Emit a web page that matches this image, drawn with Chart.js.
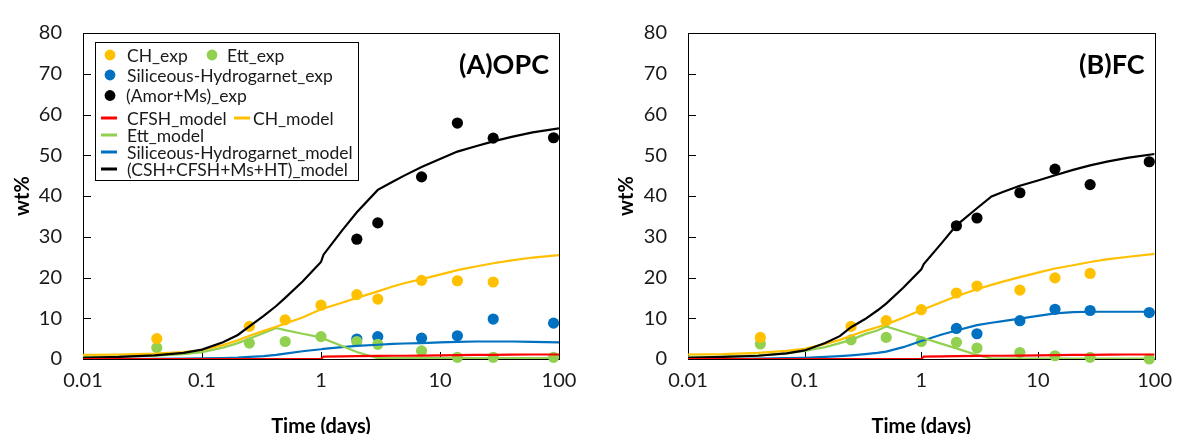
<!DOCTYPE html>
<html><head><meta charset="utf-8">
<script src="https://cdn.jsdelivr.net/npm/chart.js@4/dist/chart.umd.min.js"></script>
<style>
html,body{margin:0;padding:0;background:#fff;overflow:hidden;width:1182px;height:434px}
.wrap{position:absolute;top:0;width:591px;height:450px}
#w1{left:0}#w2{left:591px}
canvas{display:block}
</style></head><body>
<div class="wrap" id="w1"><canvas id="c1" width="591" height="450"></canvas></div>
<div class="wrap" id="w2"><canvas id="c2" width="591" height="450"></canvas></div>
<script>
// ---------- data ----------
const expTime   = [0.0417, 0.25, 0.5, 1, 2, 3, 7, 14, 28, 90];
const modelTime = [0.01,0.02,0.04,0.07,0.1,0.15,0.2,0.25,0.33,0.42,0.5,0.7,1,1.05,1.5,2,3,4,5,7,10,14,20,28,40,60,100];
const xTickVals = [0.01, 0.1, 1, 10, 100];
const yTickVals = [0,10,20,30,40,50,60,70,80];

// Panel A (OPC) experiments
const opcCHexp   = [5.0, 8.0, 9.6, 13.2, 15.8, 14.7, 19.3, 19.2, 18.9, null];
const opcEttExp  = [2.8, 3.9, 4.3, 5.5, 4.3, 3.6, 2.0, 0.4, 0.4, 0.4];
const opcSHGexp  = [null, null, null, null, 4.9, 5.5, 5.1, 5.7, 9.8, 8.8];
const opcAmorExp = [null, null, null, null, 29.4, 33.4, 44.7, 57.9, 54.2, 54.3];
// Panel A models
const opcCFSH = [0,0,0,0,0,0,0,0,0,0,0,0,0,0.6,0.65,0.7,0.75,0.8,0.8,0.85,0.9,0.95,1.0,1.0,1.05,1.1,1.1];
const opcCSH  = [0.3,0.5,0.9,1.5,2.3,4.1,5.9,8.0,10.6,13.0,15.0,19.0,23.8,25.6,31.5,36.0,41.5,43.5,45.0,47.1,49.1,50.9,52.2,53.4,54.5,55.6,56.6];
const opcCH   = [1.0,1.1,1.3,1.7,2.2,3.4,4.6,5.7,6.9,7.9,8.7,10.2,12.2,12.4,13.8,15.0,16.6,17.8,18.6,19.6,20.7,21.8,22.7,23.5,24.2,24.9,25.5];
const opcEtt  = [0.5,0.6,0.8,1.2,1.7,2.8,3.9,5.0,6.4,7.6,7.1,6.2,5.3,5.0,3.2,1.7,0.2,0.2,0.2,0.2,0.2,0.2,0.2,0.2,0.2,0.2,0.2];
const opcSHG  = [0,0,0.05,0.1,0.15,0.25,0.35,0.5,0.7,1.0,1.3,1.9,2.4,2.5,2.9,3.2,3.5,3.7,3.8,3.9,4.1,4.2,4.3,4.3,4.3,4.2,4.1];

// Panel B (FC) experiments
const fcCHexp   = [5.3, 8.0, 9.4, 12.1, 16.2, 17.9, 16.9, 19.9, 21.0, null];
const fcEttExp  = [3.7, 4.7, 5.3, 4.3, 4.1, 2.7, 1.6, 0.8, 0.4, 0.0];
const fcSHGexp  = [null, null, null, null, 7.5, 6.2, 9.4, 12.2, 11.9, 11.4];
const fcAmorExp = [null, null, null, null, 32.7, 34.6, 40.8, 46.6, 42.8, 48.4];
// Panel B models
const fcCFSH = [0,0,0,0,0,0,0,0,0,0,0,0,0,0.6,0.65,0.7,0.75,0.8,0.8,0.85,0.9,0.95,1.0,1.0,1.05,1.1,1.1];
const fcCSH  = [0.3,0.5,0.8,1.4,2.1,3.9,5.6,7.8,9.8,11.9,13.6,17.5,22.0,23.3,28.5,32.8,37.0,39.9,41.0,42.5,43.8,45.1,46.4,47.5,48.5,49.4,50.3];
const fcCH   = [1.1,1.2,1.5,2.0,2.5,3.7,4.7,5.7,6.9,7.8,8.5,10.1,12.0,12.2,14.0,15.4,17.1,18.2,19.0,20.1,21.2,22.2,23.0,23.8,24.5,25.1,25.8];
const fcEtt  = [0.5,0.6,0.9,1.4,2.0,2.9,3.9,4.7,6.1,7.0,8.0,6.7,5.3,5.1,3.7,2.6,1.0,0.1,0.1,0.1,0.1,0.1,0.1,0.1,0.1,0.1,0.1];
const fcSHG  = [0,0.05,0.1,0.2,0.3,0.5,0.7,0.9,1.2,1.5,1.8,2.9,4.4,4.6,6.0,7.0,8.3,8.9,9.3,9.9,10.6,11.2,11.5,11.6,11.6,11.6,11.6];

const seriesLabels = ['CFSH_model','(CSH+CFSH+Ms+HT)_model','CH_model','Ett_model','Siliceous-Hydrogarnet_model',
                      'CH_exp','Ett_exp','Siliceous-Hydrogarnet_exp','(Amor+Ms)_exp'];

// ---------- styling ----------
const C = {red:'#FF0000', black:'#000000', orange:'#FFC000', green:'#92D050', blue:'#0070C0'};
const FONT = 'Lato';
Chart.defaults.font.family = FONT;
Chart.defaults.color = '#1a1a1a';

function pts(xs, ys){ const out=[]; xs.forEach((x,i)=>{ if(ys[i]!==null && ys[i]!==undefined) out.push({x:x,y:ys[i]}); }); return out; }
function modelDs(label, ys, color){
  return {type:'line', label, data: pts(modelTime, ys), borderColor: color, backgroundColor: color,
          borderWidth: 2.2, pointRadius: 0, tension: 0, fill: false, kind: 'line'};
}
function expDs(label, ys, color){
  return {type:'line', label, data: pts(expTime, ys), showLine: false, borderColor: color, backgroundColor: color,
          pointBackgroundColor: color, pointBorderColor: color, pointBorderWidth: 0, pointRadius: 5.6, clip: false, kind: 'dot'};
}
function buildDatasets(m, e){
  return [
    modelDs(seriesLabels[0], m[0], C.red),
    modelDs(seriesLabels[1], m[1], C.black),
    modelDs(seriesLabels[2], m[2], C.orange),
    modelDs(seriesLabels[3], m[3], C.green),
    modelDs(seriesLabels[4], m[4], C.blue),
    expDs(seriesLabels[5], e[0], C.orange),
    expDs(seriesLabels[6], e[1], C.green),
    expDs(seriesLabels[7], e[2], C.blue),
    expDs(seriesLabels[8], e[3], C.black)
  ];
}

// frame + inside tick marks
const framePlugin = {
  id: 'frame',
  beforeDatasetsDraw(chart){
    const {ctx, chartArea: a, scales: {x, y}} = chart;
    ctx.save();
    ctx.strokeStyle = '#000'; ctx.lineWidth = 1;
    ctx.beginPath();
    yTickVals.forEach(v => { const py = Math.round(y.getPixelForValue(v)) + 0.5; ctx.moveTo(a.left, py); ctx.lineTo(a.left + 8, py); });
    xTickVals.forEach(v => { const px = Math.round(x.getPixelForValue(v)) + 0.5; ctx.moveTo(px, a.bottom); ctx.lineTo(px, a.bottom - 7); });
    ctx.stroke();
    ctx.strokeRect(Math.round(a.left)+0.5, Math.round(a.top)+0.5, Math.round(a.right-a.left), Math.round(a.bottom-a.top));
    ctx.restore();
  }
};
// panel label
const panelPlugin = {
  id: 'panel',
  afterDraw(chart, args, opts){
    const {ctx, chartArea: a} = chart;
    ctx.save();
    ctx.font = 'bold 27px ' + FONT;
    ctx.fillStyle = '#000';
    ctx.textAlign = 'right'; ctx.textBaseline = 'middle';
    ctx.fillText(opts.text, a.right - 10, a.top + 32);
    ctx.restore();
  }
};
// custom legend
const legendPlugin = {
  id: 'boxLegend',
  afterDraw(chart, args, opts){
    if (!opts.items) return;
    const {ctx, chartArea: a} = chart;
    const ds = chart.data.datasets;
    ctx.save();
    const bx = a.left + opts.box[0], by = a.top + opts.box[1];
    ctx.fillStyle = '#fff';
    ctx.fillRect(bx, by, opts.box[2], opts.box[3]);
    ctx.strokeStyle = '#000'; ctx.lineWidth = 1;
    ctx.strokeRect(Math.round(bx)+0.5, Math.round(by)+0.5, opts.box[2], opts.box[3]);
    ctx.font = '17.5px ' + FONT;
    ctx.textBaseline = 'middle'; ctx.textAlign = 'left';
    opts.items.forEach(it => {
      const d = ds[it.ds];
      const mx = a.left + it.mx, my = a.top + it.y, tx = a.left + it.tx;
      if (d.kind === 'dot') {
        ctx.fillStyle = d.pointBackgroundColor;
        ctx.beginPath(); ctx.arc(mx, my, 5.4, 0, Math.PI*2); ctx.fill();
      } else {
        ctx.strokeStyle = d.borderColor; ctx.lineWidth = 3;
        ctx.beginPath(); ctx.moveTo(mx - 8, my); ctx.lineTo(mx + 8, my); ctx.stroke();
      }
      ctx.fillStyle = '#1a1a1a';
      ctx.fillText(d.label, tx, my + 1);
    });
    ctx.restore();
  }
};

function makeChart(canvasId, datasets, cfg){
  return new Chart(document.getElementById(canvasId), {
    data: { datasets },
    options: {
      responsive: false, animation: false, devicePixelRatio: 1,
      layout: { padding: { top: 21, right: cfg.padRight, left: 0, bottom: 0 } },
      plugins: {
        legend: { display: false }, tooltip: { enabled: false },
        panel: { text: cfg.panel },
        boxLegend: cfg.legend || {}
      },
      scales: {
        x: {
          type: 'logarithmic', position: 'bottom', min: 0.01, max: 100,
          grid: { display: false, drawTicks: false }, border: { display: false },
          afterBuildTicks: s => { s.ticks = xTickVals.map(v => ({ value: v })); },
          afterFit: s => { s.height = 450 - 359; },
          ticks: { autoSkip: false, maxRotation: 0, padding: 10, font: { size: 20 }, color: '#1a1a1a',
                   callback: v => String(v) },
          title: { display: true, text: 'Time (days)', font: { size: 20, weight: 'bold' }, color: '#000',
                   padding: { top: 0, bottom: 11 } }
        },
        y: {
          type: 'linear', min: 0, max: 80,
          grid: { display: false, drawTicks: false }, border: { display: false },
          afterBuildTicks: s => { s.ticks = yTickVals.map(v => ({ value: v })); },
          afterFit: s => { s.width = cfg.yWidth; },
          ticks: { padding: 21, font: { size: 20 }, color: '#1a1a1a' },
          title: { display: true, text: 'wt%', font: { size: 20, weight: 'bold' }, color: '#000',
                   padding: { top: cfg.yTitlePad, bottom: 0 } }
        }
      }
    },
    plugins: [framePlugin, panelPlugin, legendPlugin]
  });
}

const legendA = {
  box: [12, 9, 263, 138],
  items: [
    { ds: 5, mx: 27, tx: 44, y: 22 },
    { ds: 6, mx: 129, tx: 144, y: 22 },
    { ds: 7, mx: 27, tx: 44, y: 42 },
    { ds: 8, mx: 27, tx: 43, y: 62.5 },
    { ds: 0, mx: 26, tx: 44, y: 85 },
    { ds: 2, mx: 159, tx: 170, y: 85 },
    { ds: 3, mx: 26, tx: 44, y: 102 },
    { ds: 4, mx: 26, tx: 44, y: 119 },
    { ds: 1, mx: 26, tx: 44, y: 136 }
  ]
};

makeChart('c1', buildDatasets([opcCFSH, opcCSH, opcCH, opcEtt, opcSHG], [opcCHexp, opcEttExp, opcSHGexp, opcAmorExp]),
  { padRight: 32, yWidth: 83, yTitlePad: 11, panel: '(A)OPC', legend: legendA });
makeChart('c2', buildDatasets([fcCFSH, fcCSH, fcCH, fcEtt, fcSHG], [fcCHexp, fcEttExp, fcSHGexp, fcAmorExp]),
  { padRight: 19, yWidth: 97, yTitlePad: 24, panel: '(B)FC' });
</script>
</body></html>
